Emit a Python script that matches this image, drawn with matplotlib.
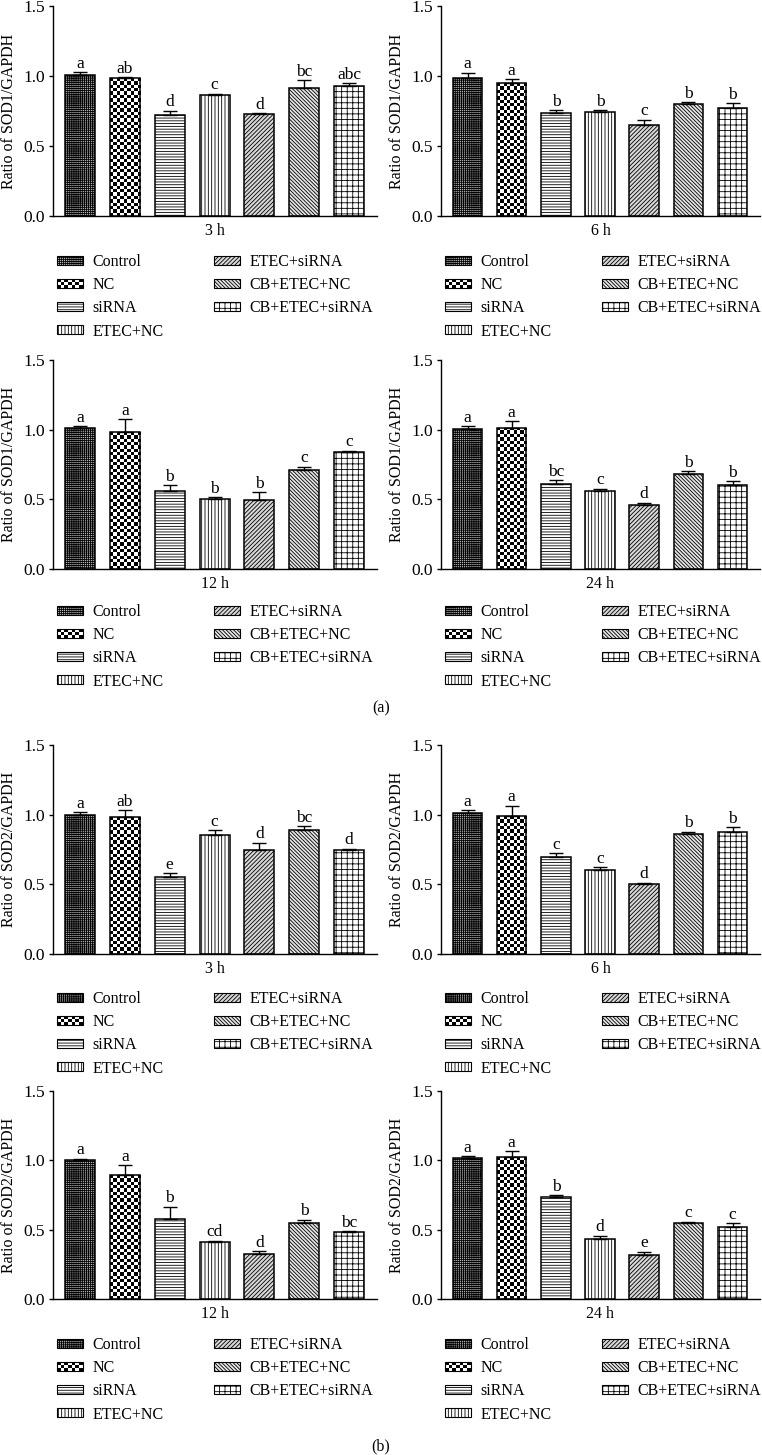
import numpy as np
import matplotlib
matplotlib.use("Agg")
from matplotlib import pyplot as plt
import matplotlib.patches as mpatches
from matplotlib.legend_handler import HandlerBase

plt.rcParams["font.family"] = ["Liberation Serif", "DejaVu Serif"]
plt.rcParams["hatch.linewidth"] = 0.6
plt.rcParams["axes.linewidth"] = 1.0

groups = ["Control", "NC", "siRNA", "ETEC+NC", "ETEC+siRNA", "CB+ETEC+NC", "CB+ETEC+siRNA"]

# SOD1 / GAPDH
sod1_3h = [1.007, 0.983, 0.721, 0.862, 0.726, 0.917, 0.931]
sod1_3h_err = [0.019, 0.007, 0.031, 0.012, 0.007, 0.052, 0.017]
sod1_3h_sig = ["a", "ab", "d", "c", "d", "bc", "abc"]

sod1_6h = [0.988, 0.949, 0.737, 0.740, 0.648, 0.802, 0.771]
sod1_6h_err = [0.036, 0.027, 0.017, 0.014, 0.041, 0.012, 0.034]
sod1_6h_sig = ["a", "a", "b", "b", "c", "b", "b"]

sod1_12h = [1.012, 0.983, 0.560, 0.502, 0.495, 0.711, 0.840]
sod1_12h_err = [0.012, 0.094, 0.040, 0.012, 0.055, 0.023, 0.009]
sod1_12h_sig = ["a", "a", "b", "b", "b", "c", "c"]

sod1_24h = [1.002, 1.012, 0.607, 0.560, 0.457, 0.683, 0.602]
sod1_24h_err = [0.024, 0.048, 0.029, 0.016, 0.019, 0.019, 0.027]
sod1_24h_sig = ["a", "a", "bc", "c", "d", "b", "b"]

# SOD2 / GAPDH
sod2_3h = [1.000, 0.981, 0.555, 0.857, 0.750, 0.888, 0.750]
sod2_3h_err = [0.019, 0.052, 0.024, 0.033, 0.048, 0.029, 0.007]
sod2_3h_sig = ["a", "ab", "e", "c", "d", "bc", "d"]

sod2_6h = [1.012, 0.988, 0.699, 0.605, 0.500, 0.858, 0.875]
sod2_6h_err = [0.022, 0.076, 0.026, 0.018, 0.012, 0.019, 0.034]
sod2_6h_sig = ["a", "a", "c", "c", "d", "b", "b"]

sod2_12h = [1.002, 0.892, 0.575, 0.411, 0.322, 0.546, 0.483]
sod2_12h_err = [0.010, 0.072, 0.091, 0.010, 0.022, 0.026, 0.007]
sod2_12h_sig = ["a", "a", "b", "cd", "d", "b", "bc"]

sod2_24h = [1.015, 1.024, 0.733, 0.430, 0.320, 0.546, 0.522]
sod2_24h_err = [0.014, 0.042, 0.015, 0.025, 0.020, 0.010, 0.024]
sod2_24h_sig = ["a", "a", "b", "d", "e", "c", "c"]

# hatch per group (None -> checkerboard)
hatches = ["+" * 8, None, "-" * 6, "|" * 5, "/" * 8, "\\" * 9, "+" * 3]
facecolors = ["#b4b4b4", "white", "white", "white", "#d8d8d8", "#e6e6e6", "white"]

W, H = 762, 1455
FS = 11.5
FS_TICK = 12.5


class CheckerHandler(HandlerBase):
    def create_artists(self, legend, orig_handle, xdescent, ydescent, width, height, fontsize, trans):
        x0, y0 = -xdescent, -ydescent
        arts = [mpatches.Rectangle((x0, y0), width, height, fc="white", ec="black", lw=0.8, transform=trans)]
        nx, ny = 7, 3
        dx, dy = width / nx, height / ny
        for i in range(nx):
            for j in range(ny):
                if (i + j) % 2 == 0:
                    arts.append(mpatches.Rectangle((x0 + i * dx, y0 + j * dy), dx, dy,
                                                   fc="black", ec="none", transform=trans))
        return arts


def checker_fill(ax, bar, cell=0.024):
    x0, w = bar.get_x(), bar.get_width()
    h = bar.get_height()
    nx = 9
    ny = max(1, int(round(h / cell)))
    img = (np.add.outer(np.arange(ny), np.arange(nx)) % 2).astype(float)
    im = ax.imshow(img, cmap="gray", extent=(x0, x0 + w, 0, h), aspect="auto",
                   interpolation="nearest", zorder=1.5, vmin=0, vmax=1)
    im.set_clip_path(bar)


def panel(fig, rect, vals, errs, sig, xlabel, ylabel, legend_xy, col2_gap):
    ax = fig.add_axes(rect)
    x = np.arange(len(groups))
    bars = ax.bar(x, vals, width=0.67, color="white", edgecolor="black", linewidth=1.1, zorder=2)
    for b, h, fc in zip(bars, hatches, facecolors):
        if h is None:
            checker_fill(ax, b)
            b.set_facecolor("none")
        else:
            b.set_facecolor(fc)
            b.set_hatch(h)
    ax.errorbar(x, vals, yerr=[np.zeros(len(errs)), errs], fmt="none", ecolor="black",
                elinewidth=1.0, capsize=5, capthick=1.0, zorder=3)
    for xi, v, e, s in zip(x, vals, errs, sig):
        ax.text(xi, v + e + 0.003, s, ha="center", va="bottom", fontsize=FS_TICK)
    ax.set_xlim(-0.6, 6.62)
    ax.set_ylim(0, 1.5)
    ax.set_yticks([0, 0.5, 1.0, 1.5])
    ax.set_yticklabels(["0.0", "0.5", "1.0", "1.5"])
    ax.set_xticks([])
    ax.tick_params(axis="y", labelsize=FS_TICK, length=3, width=1.0, pad=3)
    ax.spines["top"].set_visible(False)
    ax.spines["right"].set_visible(False)
    ax.set_xlabel(xlabel, fontsize=FS, labelpad=5)
    ax.set_ylabel(ylabel, fontsize=FS, labelpad=4)

    handles = []
    for g, h, fc in zip(groups, hatches, facecolors):
        if h is None:
            handles.append(mpatches.Patch(fc="white", ec="black", label=g))
        else:
            handles.append(mpatches.Patch(fc=fc, ec="black", hatch=h, lw=0.8, label=g))
    hmap = {handles[1]: CheckerHandler()}
    ax.legend(handles=handles, ncol=2, loc="upper left",
              bbox_to_anchor=(legend_xy[0] / W, 1 - legend_xy[1] / H),
              bbox_transform=fig.transFigure, frameon=False, fontsize=FS,
              borderpad=0, borderaxespad=0, handlelength=1.6, handleheight=0.5,
              handletextpad=0.6, labelspacing=0.45, columnspacing=col2_gap,
              handler_map=hmap)
    return ax


fig = plt.figure(figsize=(W / 100, H / 100), dpi=100)

cols = [(53, 377), (441, 760)]
rows = [(6, 216), (360, 569), (745, 954), (1091, 1299)]
legend_y = [254, 604, 991, 1337]
legend_x = [57, 445]

data = [
    (sod1_3h, sod1_3h_err, sod1_3h_sig, "3 h", "Ratio of SOD1/GAPDH"),
    (sod1_6h, sod1_6h_err, sod1_6h_sig, "6 h", "Ratio of SOD1/GAPDH"),
    (sod1_12h, sod1_12h_err, sod1_12h_sig, "12 h", "Ratio of SOD1/GAPDH"),
    (sod1_24h, sod1_24h_err, sod1_24h_sig, "24 h", "Ratio of SOD1/GAPDH"),
    (sod2_3h, sod2_3h_err, sod2_3h_sig, "3 h", "Ratio of SOD2/GAPDH"),
    (sod2_6h, sod2_6h_err, sod2_6h_sig, "6 h", "Ratio of SOD2/GAPDH"),
    (sod2_12h, sod2_12h_err, sod2_12h_sig, "12 h", "Ratio of SOD2/GAPDH"),
    (sod2_24h, sod2_24h_err, sod2_24h_sig, "24 h", "Ratio of SOD2/GAPDH"),
]

for k, (vals, errs, sig, xl, yl) in enumerate(data):
    r, c = divmod(k, 2)
    top, bot = rows[r]
    left, right = cols[c]
    rect = [left / W, 1 - bot / H, (right - left) / W, (bot - top) / H]
    panel(fig, rect, vals, errs, sig, xl, yl, (legend_x[c], legend_y[r]), 3.2)

fig.text(381 / W, 1 - 708 / H, "(a)", ha="center", va="center", fontsize=FS)
fig.text(381 / W, 1 - 1446 / H, "(b)", ha="center", va="center", fontsize=FS)

fig.savefig("out.png", dpi=100)
